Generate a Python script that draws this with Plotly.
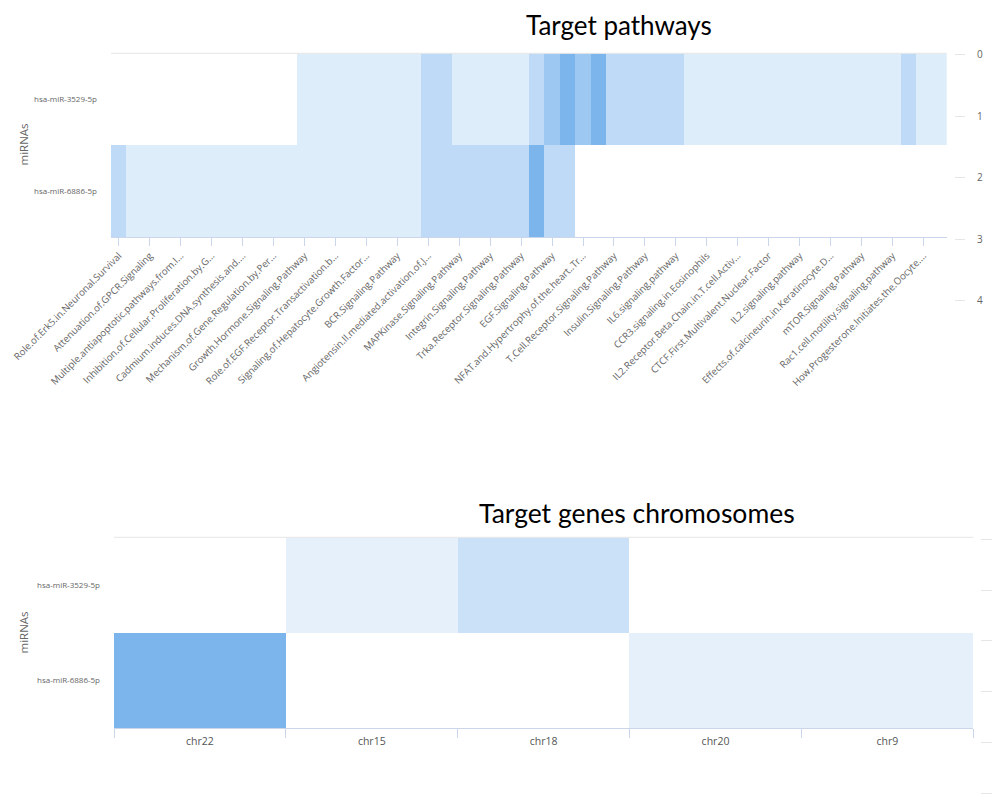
import plotly.graph_objects as go

# ---------------- data ----------------
mirnas = ["hsa-miR-3529-5p", "hsa-miR-6886-5p"]

# labels shown under every other pathway column (27 of 54 columns)
pathway_labels = [
    "Role.of.Erk5.in.Neuronal.Survival",
    "Attenuation.of.GPCR.Signaling",
    "Multiple.antiapoptotic.pathways.from.I…",
    "Inhibition.of.Cellular.Proliferation.by.G…",
    "Cadmium.induces.DNA.synthesis.and.…",
    "Mechanism.of.Gene.Regulation.by.Per…",
    "Growth.Hormone.Signaling.Pathway",
    "Role.of.EGF.Receptor.Transactivation.b…",
    "Signaling.of.Hepatocyte.Growth.Factor…",
    "BCR.Signaling.Pathway",
    "Angiotensin.II.mediated.activation.of.J…",
    "MAPKinase.Signaling.Pathway",
    "Integrin.Signaling.Pathway",
    "Trka.Receptor.Signaling.Pathway",
    "EGF.Signaling.Pathway",
    "NFAT.and.Hypertrophy.of.the.heart..Tr…",
    "T.Cell.Receptor.Signaling.Pathway",
    "Insulin.Signaling.Pathway",
    "IL6.signaling.pathway",
    "CCR3.signaling.in.Eosinophils",
    "IL2.Receptor.Beta.Chain.in.T.cell.Activ…",
    "CTCF.First.Multivalent.Nuclear.Factor",
    "IL2.signaling.pathway",
    "Effects.of.calcineurin.in.Keratinocyte.D…",
    "mTOR.Signaling.Pathway",
    "Rac1.cell.motility.signaling.pathway",
    "How.Progesterone.Initiates.the.Oocyte.…",
]
label_step = 2

N = None
pathways_3529 = [N, N, N, N, N, N, N, N, N, N, N, N,
                 1, 1, 1, 1, 1, 1, 1, 1,
                 2, 2,
                 1, 1, 1, 1, 1,
                 2, 3, 4, 3, 4,
                 2, 2, 2, 2, 2,
                 1, 1, 1, 1, 1, 1, 1, 1, 1, 1, 1, 1, 1, 1,
                 2,
                 1, 1]
pathways_6886 = [2,
                 1, 1, 1, 1, 1, 1, 1, 1, 1, 1, 1, 1, 1, 1, 1, 1, 1, 1, 1,
                 2, 2, 2, 2, 2, 2, 2,
                 4,
                 2, 2,
                 N, N, N, N, N, N, N, N, N, N, N, N, N, N, N, N, N, N, N, N, N, N, N, N]

chromosomes = ["chr22", "chr15", "chr18", "chr20", "chr9"]
chrom_3529 = [N, 1, 2, N, N]
chrom_6886 = [5, N, N, 1, 1]

right_ticks_top = [0, 1, 2, 3, 4]
right_ticks_bottom = [0, 1, 2, 3, 4, 5]

# ---------------- figure ----------------
OFF = 8                      # page body margin
W, H = 1000 - OFF, 801 - OFF
def px(x): return (x - OFF) / W
def py(y): return 1 - (y - OFF) / H

BLUE = "#7cb5ec"
scale = [[0, "#ffffff"], [1, BLUE]]
FONT = "Open Sans, sans-serif"
cols = list(range(len(pathways_3529)))

fig = go.Figure()

fig.add_trace(go.Heatmap(
    x=cols, y=[mirnas[1], mirnas[0]],
    z=[pathways_6886, pathways_3529],
    colorscale=scale, zmin=0, zmax=4, showscale=False,
    xaxis="x", yaxis="y",
))
fig.add_trace(go.Heatmap(
    x=chromosomes, y=[mirnas[1], mirnas[0]],
    z=[chrom_6886, chrom_3529],
    colorscale=scale, zmin=0, zmax=5, showscale=False,
    xaxis="x2", yaxis="y2",
))
# empty carriers for the two right-hand tick axes
fig.add_trace(go.Scatter(x=[None], y=[None], xaxis="x3", yaxis="y3",
                         mode="markers", showlegend=False, hoverinfo="skip"))
fig.add_trace(go.Scatter(x=[None], y=[None], xaxis="x4", yaxis="y4",
                         mode="markers", showlegend=False, hoverinfo="skip"))

hidden = dict(visible=False, showgrid=False, zeroline=False, automargin=False)

fig.update_layout(
    width=W, height=H,
    margin=dict(l=0, r=0, t=0, b=0, autoexpand=False),
    paper_bgcolor="white", plot_bgcolor="white",
    showlegend=False,
    xaxis=dict(
        domain=[px(111), px(946.7)], anchor="y", automargin=False,
        range=[-0.5, len(cols) - 0.5],
        tickmode="array", tickvals=cols[::label_step], ticktext=pathway_labels,
        tickangle=-45, tickfont=dict(family=FONT, size=9.7, color="#666666"),
        ticks="outside", ticklen=8, tickcolor="#ccd6eb",
        showline=True, linecolor="#ccd6eb", linewidth=1,
        showgrid=False, zeroline=False,
    ),
    yaxis=dict(
        domain=[py(237.3), py(53.3)], anchor="x", automargin=False,
        type="category", categoryorder="array", categoryarray=[mirnas[1], mirnas[0]],
        tickfont=dict(family=FONT, size=8, color="#666666"),
        ticks="", ticklabelstandoff=13,
        showgrid=False, zeroline=False, showline=False,
    ),
    xaxis3=dict(domain=[px(955), 1], anchor="y3", range=[0, 1], **hidden),
    yaxis3=dict(
        domain=[py(303.6), py(51.9)], anchor="x3", automargin=False,
        side="left", range=[4.05, -0.05],
        tickmode="array", tickvals=right_ticks_top,
        tickfont=dict(family=FONT, size=10, color="#666666"),
        ticks="inside", ticklen=10, tickcolor="#e6e6e6",
        ticklabelposition="inside", ticklabelstandoff=11, ticklabeloverflow="allow",
        showgrid=False, zeroline=False, showline=False,
    ),
    xaxis2=dict(
        domain=[px(114), px(973.3)], anchor="y2", automargin=False,
        type="category", categoryorder="array", categoryarray=chromosomes,
        tickfont=dict(family=FONT, size=10.5, color="#555555"),
        ticks="outside", ticklen=9, tickcolor="#ccd6eb", tickson="boundaries",
        ticklabelstandoff=3,
        showline=True, linecolor="#ccd6eb", linewidth=1,
        showgrid=False, zeroline=False,
    ),
    yaxis2=dict(
        domain=[py(728.3), py(537.3)], anchor="x2", automargin=False,
        type="category", categoryorder="array", categoryarray=[mirnas[1], mirnas[0]],
        tickfont=dict(family=FONT, size=8, color="#666666"),
        ticks="", ticklabelstandoff=13,
        showgrid=False, zeroline=False, showline=False,
    ),
    xaxis4=dict(domain=[px(980.7), 1], anchor="y4", range=[0, 1], **hidden),
    yaxis4=dict(
        domain=[py(795.8), py(536.8)], anchor="x4", automargin=False,
        side="left", range=[5.05, -0.05],
        tickmode="array", tickvals=right_ticks_bottom, showticklabels=False,
        ticks="inside", ticklen=11, tickcolor="#e6e6e6",
        showgrid=False, zeroline=False, showline=False,
    ),
    shapes=[
        dict(type="line", xref="x domain", yref="y domain", x0=0, x1=1, y0=1, y1=1,
             line=dict(color="#e6e6e6", width=1)),
        dict(type="line", xref="x2 domain", yref="y2 domain", x0=0, x1=1, y0=1, y1=1,
             line=dict(color="#e6e6e6", width=1)),
    ],
    annotations=[
        dict(text="Target pathways", xref="paper", yref="paper", x=px(619), y=1,
             xanchor="center", yanchor="top", borderpad=0, showarrow=False,
             font=dict(family="Lato, sans-serif", size=26, color="#000000")),
        dict(text="Target genes chromosomes", xref="paper", yref="paper", x=px(637), y=py(513),
             xanchor="center", yanchor="middle", showarrow=False,
             font=dict(family="Lato, sans-serif", size=26.5, color="#000000")),
        dict(text="miRNAs", xref="paper", yref="paper", x=px(22.5), y=py(145), textangle=-90,
             xanchor="center", yanchor="middle", showarrow=False,
             font=dict(family=FONT, size=11.5, color="#666666")),
        dict(text="miRNAs", xref="paper", yref="paper", x=px(22.5), y=py(633), textangle=-90,
             xanchor="center", yanchor="middle", showarrow=False,
             font=dict(family=FONT, size=11.5, color="#666666")),
    ],
)

fig.write_html("out.html")
